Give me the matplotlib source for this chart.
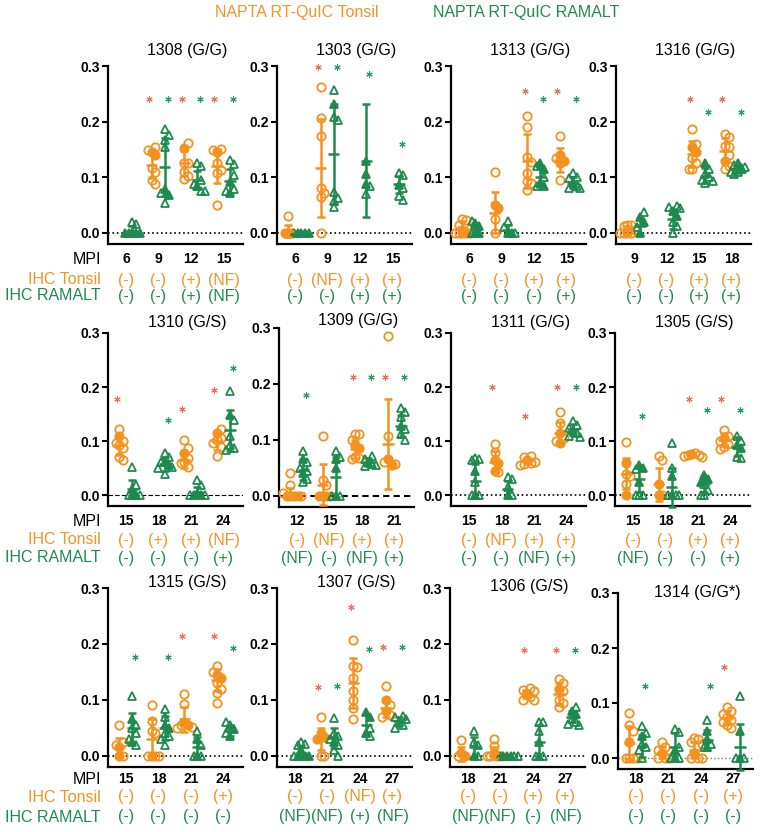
import matplotlib
matplotlib.use("Agg")
import matplotlib.pyplot as plt
from matplotlib.transforms import blended_transform_factory

plt.rcParams['font.family'] = ['Liberation Sans', 'DejaVu Sans']

# ---------------- data ----------------
# each panel: MPI, IHC calls, open / filled points, (mean, sd), asterisk heights
P1308_MPI = [6, 9, 12, 15]
P1308_IHC_TON = ['(-)', '(-)', '(+)', '(NF)']
P1308_IHC_RAM = ['(-)', '(-)', '(+)', '(NF)']
P1308_TON_OPEN = [[], [0.155, 0.149, 0.116, 0.11, 0.095, 0.088], [0.162, 0.126, 0.125, 0.11, 0.103, 0.097], [0.151, 0.149, 0.125, 0.113, 0.107, 0.051]]
P1308_TON_FILL = [[], [0.146, 0.14], [0.152], [0.146]]
P1308_TON_MSD = [None, (0.122, 0.024), (0.125, 0.022), (0.12, 0.031)]
P1308_RAM_OPEN = [[0.02, 0.016], [0.186, 0.176, 0.167, 0.155, 0.072, 0.053], [0.125, 0.12, 0.095, 0.087, 0.075, 0.075], [0.131, 0.123, 0.104, 0.078, 0.075]]
P1308_RAM_FILL = [[0, 0, 0, 0, 0], [0.078, 0.068], [0.084], [0.092, 0.072]]
P1308_RAM_MSD = [(0.004, 0.008), (0.119, 0.052), (0.095, 0.017), (0.093, 0.022)]
P1308_STAR_TON = [None, 0.24, 0.24, 0.24]
P1308_STAR_RAM = [None, 0.24, 0.24, 0.24]

P1303_MPI = [6, 9, 12, 15]
P1303_IHC_TON = ['(-)', '(NF)', '(+)', '(+)']
P1303_IHC_RAM = ['(-)', '(-)', '(+)', '(+)']
P1303_TON_OPEN = [[0.03], [0.262, 0.207, 0.174, 0.08, 0.072, 0.064, 0.0], [], []]
P1303_TON_FILL = [[0, 0, 0], [], [], []]
P1303_TON_MSD = [(0.004, 0.011), (0.116, 0.088), None, None]
P1303_RAM_OPEN = [[], [0.256, 0.209, 0.203, 0.073, 0.062, 0.058, 0.046], [0.084, 0.07], [0.107, 0.104, 0.08, 0.066, 0.06]]
P1303_RAM_FILL = [[0, 0, 0, 0, 0], [0.232], [0.13, 0.106, 0.087], [0.086]]
P1303_RAM_MSD = [(0.0, 0.0), (0.142, 0.09), (0.13, 0.102), (0.087, 0.016)]
P1303_STAR_TON = [None, 0.298, None, None]
P1303_STAR_RAM = [None, 0.298, 0.285, 0.16]

P1313_MPI = [6, 9, 12, 15]
P1313_IHC_TON = ['(-)', '(-)', '(+)', '(+)']
P1313_IHC_RAM = ['(-)', '(-)', '(-)', '(+)']
P1313_TON_OPEN = [[0.025, 0.024, 0.015, 0.0, 0.0, 0.0], [0.11, 0.025, 0.0], [0.21, 0.19, 0.137, 0.128, 0.107, 0.093, 0.09, 0.077], [0.174, 0.135, 0.095]]
P1313_TON_FILL = [[0.0, 0.0], [0.05, 0.045], [], [0.14, 0.13, 0.125]]
P1313_TON_MSD = [(0.01, 0.012), (0.036, 0.037), (0.129, 0.049), (0.131, 0.022)]
P1313_RAM_OPEN = [[0.022, 0.0], [0.022, 0.01, 0.0], [0.12, 0.1, 0.085], [0.107, 0.1, 0.098, 0.085, 0.08, 0.08]]
P1313_RAM_FILL = [[0.018, 0.012, 0.0, 0.0], [0.0, 0.0], [0.125, 0.115, 0.09, 0.085], [0.09]]
P1313_RAM_MSD = [(0.009, 0.009), (0.006, 0.009), (0.1, 0.017), (0.09, 0.01)]
P1313_STAR_TON = [None, None, 0.255, 0.255]
P1313_STAR_RAM = [None, None, 0.24, 0.24]

P1316_MPI = [9, 12, 15, 18]
P1316_IHC_TON = ['(-)', '(-)', '(+)', '(+)']
P1316_IHC_RAM = ['(-)', '(-)', '(+)', '(+)']
P1316_TON_OPEN = [[0.015, 0.015, 0.012, 0.005, 0.0, 0.0, 0.0, 0.0], [], [0.186, 0.16, 0.135, 0.125, 0.115, 0.115], [0.178, 0.172, 0.157, 0.155, 0.14, 0.12, 0.115]]
P1316_TON_FILL = [[], [], [0.155, 0.145], [0.13]]
P1316_TON_MSD = [(0.005, 0.007), None, (0.142, 0.024), (0.148, 0.022)]
P1316_RAM_OPEN = [[0.038, 0.01], [0.048, 0.046, 0.045, 0.02, 0.012, 0.0], [0.115, 0.105, 0.1, 0.095, 0.093, 0.09], [0.122, 0.118, 0.11, 0.11, 0.105]]
P1316_RAM_FILL = [[0.028, 0.02, 0.0], [0.04, 0.03], [0.125], [0.125, 0.115]]
P1316_RAM_MSD = [(0.012, 0.015), (0.025, 0.018), (0.103, 0.013), (0.115, 0.008)]
P1316_STAR_TON = [None, None, 0.24, 0.24]
P1316_STAR_RAM = [None, None, 0.218, 0.218]

P1310_MPI = [15, 18, 21, 24]
P1310_IHC_TON = ['(-)', '(+)', '(+)', '(NF)']
P1310_IHC_RAM = ['(-)', '(-)', '(-)', '(+)']
P1310_TON_OPEN = [[0.122, 0.1, 0.097, 0.093, 0.087, 0.071, 0.065], [], [0.102, 0.087, 0.068, 0.062, 0.059, 0.053], [0.122, 0.106, 0.102, 0.096, 0.09, 0.073]]
P1310_TON_FILL = [[0.109], [], [0.078], [0.115]]
P1310_TON_MSD = [(0.092, 0.018), None, (0.065, 0.014), (0.1, 0.016)]
P1310_RAM_OPEN = [[0.052, 0.019, 0.0, 0.0], [0.078, 0.071, 0.062, 0.053, 0.05, 0.04], [0.028, 0.019, 0.0, 0.0], [0.193, 0.14, 0.109, 0.093, 0.087, 0.084]]
P1310_RAM_FILL = [[0.012, 0.0, 0.0], [0.062, 0.056], [0.003, 0.0, 0.0], [0.149]]
P1310_RAM_MSD = [(0.012, 0.017), (0.057, 0.012), (0.006, 0.01), (0.12, 0.038)]
P1310_STAR_TON = [0.178, None, 0.16, 0.194]
P1310_STAR_RAM = [None, 0.14, None, 0.236]

P1309_MPI = [12, 15, 18, 21]
P1309_IHC_TON = ['(-)', '(NF)', '(+)', '(+)']
P1309_IHC_RAM = ['(NF)', '(-)', '(NF)', '(+)']
P1309_TON_OPEN = [[0.04, 0.02, 0.005, 0.0], [0.107, 0.028, 0.02, 0.0], [0.11, 0.11, 0.1, 0.07, 0.068, 0.065], [0.285, 0.107, 0.06, 0.057]]
P1309_TON_FILL = [[0.0, 0.0, 0.0, 0.0], [0.0, 0.0, 0.0], [0.09, 0.085], [0.065, 0.055]]
P1309_TON_MSD = [(0.004, 0.01), (0.02, 0.037), (0.083, 0.016), (0.093, 0.08)]
P1309_RAM_OPEN = [[0.08, 0.06, 0.05, 0.045, 0.03, 0.025], [0.08, 0.07, 0.0, 0.0], [0.072, 0.065, 0.057, 0.055, 0.053], [0.157, 0.15, 0.14, 0.12, 0.11, 0.1]]
P1309_RAM_FILL = [[0.065, 0.04], [0.065, 0.05, 0.0], [0.06], [0.125]]
P1309_RAM_MSD = [(0.047, 0.018), (0.034, 0.036), (0.06, 0.007), (0.125, 0.02)]
P1309_STAR_TON = [None, None, 0.213, 0.213]
P1309_STAR_RAM = [0.18, None, 0.213, 0.213]

P1311_MPI = [15, 18, 21, 24]
P1311_IHC_TON = ['(-)', '(NF)', '(+)', '(+)']
P1311_IHC_RAM = ['(-)', '(-)', '(NF)', '(+)']
P1311_TON_OPEN = [[], [0.095, 0.08, 0.042], [0.073, 0.07, 0.062, 0.06, 0.057, 0.055], [0.153, 0.133, 0.105, 0.1]]
P1311_TON_FILL = [[], [0.065, 0.06, 0.045], [0.065], [0.115, 0.097]]
P1311_TON_MSD = [None, (0.062, 0.02), (0.063, 0.006), (0.115, 0.02)]
P1311_RAM_OPEN = [[0.068, 0.067, 0.065, 0.025, 0.0, 0.0], [0.033, 0.03, 0.015, 0.0], [], [0.138, 0.13, 0.125, 0.115, 0.11, 0.108]]
P1311_RAM_FILL = [[0.045, 0.0], [0.0], [], [0.12]]
P1311_RAM_MSD = [(0.026, 0.032), (0.012, 0.015), None, (0.122, 0.01)]
P1311_STAR_TON = [None, 0.2, 0.146, 0.2]
P1311_STAR_RAM = [None, None, None, 0.2]

P1305_MPI = [15, 18, 21, 24]
P1305_IHC_TON = ['(-)', '(-)', '(+)', '(+)']
P1305_IHC_RAM = ['(NF)', '(-)', '(-)', '(+)']
P1305_TON_OPEN = [[0.099, 0.04, 0.035, 0.02], [0.073, 0.065, 0.0], [0.078, 0.075, 0.074, 0.072, 0.07], [0.12, 0.11, 0.1, 0.095, 0.09, 0.085]]
P1305_TON_FILL = [[0.06, 0.0], [0.02, 0.0], [0.077], [0.105]]
P1305_TON_MSD = [(0.04, 0.028), (0.02, 0.03), (0.075, 0.003), (0.103, 0.012)]
P1305_RAM_OPEN = [[0.048, 0.0, 0.0, 0.0], [0.097, 0.05, 0.0, 0.0, 0.0], [0.02, 0.01, 0.0, 0.0], [0.11, 0.1, 0.07, 0.068]]
P1305_RAM_FILL = [[0.055, 0.05, 0.025], [0.035, 0.0], [0.037, 0.03, 0.025], [0.092, 0.088]]
P1305_RAM_MSD = [(0.03, 0.024), (0.015, 0.036), (0.02, 0.015), (0.09, 0.017)]
P1305_STAR_TON = [None, None, 0.177, 0.177]
P1305_STAR_RAM = [0.146, None, 0.157, 0.157]

P1315_MPI = [15, 18, 21, 24]
P1315_IHC_TON = ['(-)', '(-)', '(-)', '(+)']
P1315_IHC_RAM = ['(-)', '(-)', '(-)', '(-)']
P1315_TON_OPEN = [[0.055, 0.025, 0.02, 0.0], [0.091, 0.062, 0.045, 0.04, 0.0, 0.0, 0.0], [0.11, 0.093, 0.055, 0.052, 0.05], [0.16, 0.15, 0.13, 0.12, 0.113, 0.095]]
P1315_TON_FILL = [[0.015, 0.0], [0.0], [0.06, 0.055], [0.145, 0.14]]
P1315_TON_MSD = [(0.015, 0.017), (0.03, 0.035), (0.065, 0.022), (0.135, 0.02)]
P1315_RAM_OPEN = [[0.107, 0.055, 0.05, 0.04, 0.03, 0.02], [0.083, 0.07, 0.04, 0.035, 0.03, 0.02], [0.044, 0.02, 0.0, 0.0], [0.06, 0.04]]
P1315_RAM_FILL = [[0.065, 0.025], [0.055, 0.05], [0.03, 0.0], [0.055, 0.048, 0.035]]
P1315_RAM_MSD = [(0.05, 0.026), (0.05, 0.022), (0.015, 0.018), (0.045, 0.01)]
P1315_STAR_TON = [None, None, 0.214, 0.214]
P1315_STAR_RAM = [0.177, 0.177, None, 0.192]

P1307_MPI = [18, 21, 24, 27]
P1307_IHC_TON = ['(-)', '(-)', '(NF)', '(+)']
P1307_IHC_RAM = ['(NF)', '(NF)', '(+)', '(NF)']
P1307_TON_OPEN = [[], [0.07, 0.0, 0.0], [0.207, 0.16, 0.158, 0.14, 0.115, 0.1, 0.085, 0.065], [0.125, 0.09, 0.073, 0.07]]
P1307_TON_FILL = [[], [0.04, 0.033, 0.03], [], [0.1, 0.08]]
P1307_TON_MSD = [None, (0.03, 0.02), (0.13, 0.045), (0.085, 0.015)]
P1307_RAM_OPEN = [[0.025, 0.022, 0.02, 0.0], [0.067, 0.04, 0.035, 0.03, 0.02, 0.01, 0.0], [0.05, 0.035], [0.072, 0.07, 0.065, 0.055, 0.05]]
P1307_RAM_FILL = [[0.01, 0.0, 0.0, 0.0], [0.025], [0.078, 0.07, 0.04], [0.06]]
P1307_RAM_MSD = [(0.005, 0.01), (0.032, 0.018), (0.055, 0.02), (0.062, 0.008)]
P1307_STAR_TON = [None, 0.123, 0.266, 0.195]
P1307_STAR_RAM = [None, 0.125, 0.191, 0.195]

P1306_MPI = [18, 21, 24, 27]
P1306_IHC_TON = ['(-)', '(-)', '(+)', '(+)']
P1306_IHC_RAM = ['(NF)', '(NF)', '(-)', '(NF)']
P1306_TON_OPEN = [[0.028, 0.0], [0.03, 0.018, 0.0, 0.0, 0.0, 0.0], [0.122, 0.118, 0.115, 0.105, 0.1, 0.1], [0.138, 0.13, 0.115, 0.1, 0.095, 0.088]]
P1306_TON_FILL = [[0.005, 0.0], [0.005], [0.11], [0.12]]
P1306_TON_MSD = [(0.003, 0.012), (0.005, 0.011), (0.11, 0.007), (0.11, 0.02)]
P1306_RAM_OPEN = [[0.045, 0.025, 0.02, 0.0], [0.0, 0.0, 0.0], [0.06, 0.06, 0.045, 0.0, 0.0], [0.088, 0.065, 0.06, 0.057, 0.055]]
P1306_RAM_FILL = [[0.0], [0.0, 0.0, 0.0], [0.025, 0.0], [0.08, 0.075]]
P1306_RAM_MSD = [(0.015, 0.018), (0.0, 0.0), (0.025, 0.03), (0.07, 0.01)]
P1306_STAR_TON = [None, None, 0.19, 0.19]
P1306_STAR_RAM = [None, None, None, 0.19]

P1314_MPI = [18, 21, 24, 27]
P1314_IHC_TON = ['(-)', '(-)', '(-)', '(+)']
P1314_IHC_RAM = ['(-)', '(-)', '(-)', '(-)']
P1314_TON_OPEN = [[0.082, 0.06, 0.05, 0.0, 0.0, 0.0, 0.0], [0.03, 0.02, 0.015, 0.0, 0.0, 0.0], [0.036, 0.035, 0.03, 0.025, 0.0, 0.0, 0.0], [0.092, 0.085, 0.08, 0.075, 0.07, 0.065, 0.06, 0.055]]
P1314_TON_FILL = [[0.03], [0.01], [0.01], []]
P1314_TON_MSD = [(0.028, 0.03), (0.01, 0.01), (0.015, 0.015), (0.073, 0.012)]
P1314_RAM_OPEN = [[0.058, 0.045, 0.025, 0.02, 0.015, 0.0], [0.053, 0.048, 0.02, 0.0, 0.0, 0.0], [0.07, 0.035, 0.025, 0.02], [0.112, 0.0, 0.0]]
P1314_RAM_FILL = [[0.04], [0.015], [0.05, 0.02], [0.05, 0.0]]
P1314_RAM_MSD = [(0.022, 0.02), (0.02, 0.025), (0.033, 0.018), (0.02, 0.042)]
P1314_STAR_TON = [None, None, None, 0.166]
P1314_STAR_RAM = [0.131, None, 0.131, None]

PANEL_NAMES = ['1308 (G/G)', '1303 (G/G)', '1313 (G/G)', '1316 (G/G)',
               '1310 (G/S)', '1309 (G/G)', '1311 (G/G)', '1305 (G/S)',
               '1315 (G/S)', '1307 (G/S)', '1306 (G/S)', '1314 (G/G*)']

PANELS = [
    (P1308_MPI, P1308_IHC_TON, P1308_IHC_RAM, P1308_TON_OPEN, P1308_TON_FILL, P1308_TON_MSD, P1308_RAM_OPEN, P1308_RAM_FILL, P1308_RAM_MSD, P1308_STAR_TON, P1308_STAR_RAM),
    (P1303_MPI, P1303_IHC_TON, P1303_IHC_RAM, P1303_TON_OPEN, P1303_TON_FILL, P1303_TON_MSD, P1303_RAM_OPEN, P1303_RAM_FILL, P1303_RAM_MSD, P1303_STAR_TON, P1303_STAR_RAM),
    (P1313_MPI, P1313_IHC_TON, P1313_IHC_RAM, P1313_TON_OPEN, P1313_TON_FILL, P1313_TON_MSD, P1313_RAM_OPEN, P1313_RAM_FILL, P1313_RAM_MSD, P1313_STAR_TON, P1313_STAR_RAM),
    (P1316_MPI, P1316_IHC_TON, P1316_IHC_RAM, P1316_TON_OPEN, P1316_TON_FILL, P1316_TON_MSD, P1316_RAM_OPEN, P1316_RAM_FILL, P1316_RAM_MSD, P1316_STAR_TON, P1316_STAR_RAM),
    (P1310_MPI, P1310_IHC_TON, P1310_IHC_RAM, P1310_TON_OPEN, P1310_TON_FILL, P1310_TON_MSD, P1310_RAM_OPEN, P1310_RAM_FILL, P1310_RAM_MSD, P1310_STAR_TON, P1310_STAR_RAM),
    (P1309_MPI, P1309_IHC_TON, P1309_IHC_RAM, P1309_TON_OPEN, P1309_TON_FILL, P1309_TON_MSD, P1309_RAM_OPEN, P1309_RAM_FILL, P1309_RAM_MSD, P1309_STAR_TON, P1309_STAR_RAM),
    (P1311_MPI, P1311_IHC_TON, P1311_IHC_RAM, P1311_TON_OPEN, P1311_TON_FILL, P1311_TON_MSD, P1311_RAM_OPEN, P1311_RAM_FILL, P1311_RAM_MSD, P1311_STAR_TON, P1311_STAR_RAM),
    (P1305_MPI, P1305_IHC_TON, P1305_IHC_RAM, P1305_TON_OPEN, P1305_TON_FILL, P1305_TON_MSD, P1305_RAM_OPEN, P1305_RAM_FILL, P1305_RAM_MSD, P1305_STAR_TON, P1305_STAR_RAM),
    (P1315_MPI, P1315_IHC_TON, P1315_IHC_RAM, P1315_TON_OPEN, P1315_TON_FILL, P1315_TON_MSD, P1315_RAM_OPEN, P1315_RAM_FILL, P1315_RAM_MSD, P1315_STAR_TON, P1315_STAR_RAM),
    (P1307_MPI, P1307_IHC_TON, P1307_IHC_RAM, P1307_TON_OPEN, P1307_TON_FILL, P1307_TON_MSD, P1307_RAM_OPEN, P1307_RAM_FILL, P1307_RAM_MSD, P1307_STAR_TON, P1307_STAR_RAM),
    (P1306_MPI, P1306_IHC_TON, P1306_IHC_RAM, P1306_TON_OPEN, P1306_TON_FILL, P1306_TON_MSD, P1306_RAM_OPEN, P1306_RAM_FILL, P1306_RAM_MSD, P1306_STAR_TON, P1306_STAR_RAM),
    (P1314_MPI, P1314_IHC_TON, P1314_IHC_RAM, P1314_TON_OPEN, P1314_TON_FILL, P1314_TON_MSD, P1314_RAM_OPEN, P1314_RAM_FILL, P1314_RAM_MSD, P1314_STAR_TON, P1314_STAR_RAM),
]

# ---------------- layout (pixels, top-left origin) ----------------
W, H = 761, 832
AX_LEFT = [108, 277, 451, 616, 108, 279, 451, 615, 108, 277, 450, 618]
AX_TOP = [66, 66, 66, 66, 333, 328, 333, 333, 588, 588, 588, 593]
AX_BOT = [244, 244, 244, 244, 506, 507, 506, 506, 767, 767, 767, 769]
AX_W = 135
TITLE_Y = [50, 50, 50, 50, 322, 320, 322, 322, 582, 582, 587, 592]
ROW_MPI_Y = [260, 522, 780]
ROW_TON_Y = [280, 540, 797]
ROW_RAM_Y = [296, 558, 817]
BASE_LS = [':', ':', ':', ':', (0, (4, 2)), (0, (3, 2)), ':', ':', ':', ':', ':', ':']
BASE_LW = [1.2, 1.2, 1.2, 1.2, 0.8, 1.5, 1.2, 1.2, 1.2, 1.2, 1.2, 1.0]
BASE_COL = ['black'] * 11 + ['#777777']

ORANGE = '#F5921E'
GREEN = '#1E8A4E'
STAR_OR = '#E8735C'
STAR_GR = '#2A9A62'
TXT_OR = '#F39322'
TXT_GR = '#1F8A4F'


def fy(y):
    return 1 - y / H


def swarm(vals, center, step=0.11, dy=0.012):
    placed = []
    for v in vals:
        x = center
        for k in [0, 1, -1, 2, -2, 3, -3, 4, -4]:
            x = center + k * step
            if all(abs(x - px) > step * 0.5 or abs(v - py) >= dy for px, py in placed):
                break
        placed.append((x, v))
    return [p[0] for p in placed]


def draw_group(ax, c, opened, filled, msd, color, marker):
    xs = swarm(list(filled) + list(opened), c)
    nf = len(filled)
    if nf:
        ax.plot(xs[:nf], filled, ls='none', marker=marker, ms=6, mfc=color,
                mec=color, mew=1.3, zorder=3, clip_on=False)
    if opened:
        ax.plot(xs[nf:], opened, ls='none', marker=marker, ms=6, mfc='none',
                mec=color, mew=1.3, zorder=3, clip_on=False)
    if msd is not None:
        m, s = msd
        ax.errorbar([c], [m], yerr=[s], color=color, capsize=3, elinewidth=1.8,
                    capthick=1.8, zorder=4, clip_on=False)
        ax.hlines(m, c - 0.17, c + 0.17, color=color, lw=1.8, zorder=4)


fig = plt.figure(figsize=(W / 100, H / 100), dpi=100)

fig.text(297 / W, fy(12), 'NAPTA RT-QuIC Tonsil', color=TXT_OR, fontsize=11.5,
         ha='center', va='center')
fig.text(526 / W, fy(12), 'NAPTA RT-QuIC RAMALT', color=TXT_GR, fontsize=11.5,
         ha='center', va='center')

for p, (mpi, ihc_t, ihc_r, t_open, t_fill, t_msd, r_open, r_fill, r_msd, st_t, st_r) in enumerate(PANELS):
    row = p // 4
    left, top, bot = AX_LEFT[p], AX_TOP[p], AX_BOT[p]
    ax = fig.add_axes([left / W, fy(bot), AX_W / W, (bot - top) / H])
    ax.set_xlim(-0.55, 3.6)
    ax.set_ylim(-0.02, 0.3)
    for s in ['top', 'right']:
        ax.spines[s].set_visible(False)
    for s in ['left', 'bottom']:
        ax.spines[s].set_linewidth(1.6)
    ax.axhline(0, ls=BASE_LS[p], lw=BASE_LW[p], color=BASE_COL[p], zorder=1)

    ax.set_yticks([0, 0.1, 0.2, 0.3])
    ax.set_yticklabels(['0.0', '0.1', '0.2', '0.3'], fontweight='bold', fontsize=10)
    ax.tick_params(axis='y', length=4, width=1.5, pad=1.5)
    ax.set_xticks(range(len(mpi)))
    ax.set_xticklabels([str(m) for m in mpi], fontweight='bold', fontsize=10)
    mpi_pad = (ROW_MPI_Y[row] - bot - 8) * 72 / 100
    ax.tick_params(axis='x', length=0, pad=mpi_pad)

    for i in range(len(mpi)):
        draw_group(ax, i - 0.2, t_open[i], t_fill[i], t_msd[i], ORANGE, 'o')
        draw_group(ax, i + 0.2, r_open[i], r_fill[i], r_msd[i], GREEN, '^')
        if st_t[i] is not None:
            ax.plot([i - 0.28], [st_t[i]], ls='none', marker=(6, 2, 0), ms=4.5,
                    mew=0.8, color=STAR_OR, clip_on=False)
        if st_r[i] is not None:
            ax.plot([i + 0.28], [st_r[i]], ls='none', marker=(6, 2, 0), ms=4.5,
                    mew=0.8, color=STAR_GR, clip_on=False)

    trans = blended_transform_factory(ax.transData, fig.transFigure)
    for i in range(len(mpi)):
        ax.text(i, fy(ROW_TON_Y[row]), ihc_t[i], transform=trans, color=TXT_OR,
                fontsize=11.5, ha='center', va='center')
        ax.text(i, fy(ROW_RAM_Y[row]), ihc_r[i], transform=trans, color=TXT_GR,
                fontsize=11.5, ha='center', va='center')

    fig.text((left + AX_W / 2 + 12) / W, fy(TITLE_Y[p]), PANEL_NAMES[p],
             fontsize=11.5, ha='center', va='center')

for row in range(3):
    fig.text(101 / W, fy(ROW_MPI_Y[row]), 'MPI', fontsize=11.5, ha='right', va='center')
    fig.text(101 / W, fy(ROW_TON_Y[row]), 'IHC Tonsil', color=TXT_OR, fontsize=11.5,
             ha='right', va='center')
    fig.text(101 / W, fy(ROW_RAM_Y[row]), 'IHC RAMALT', color=TXT_GR, fontsize=11.5,
             ha='right', va='center')

fig.savefig('out.png', dpi=100)
